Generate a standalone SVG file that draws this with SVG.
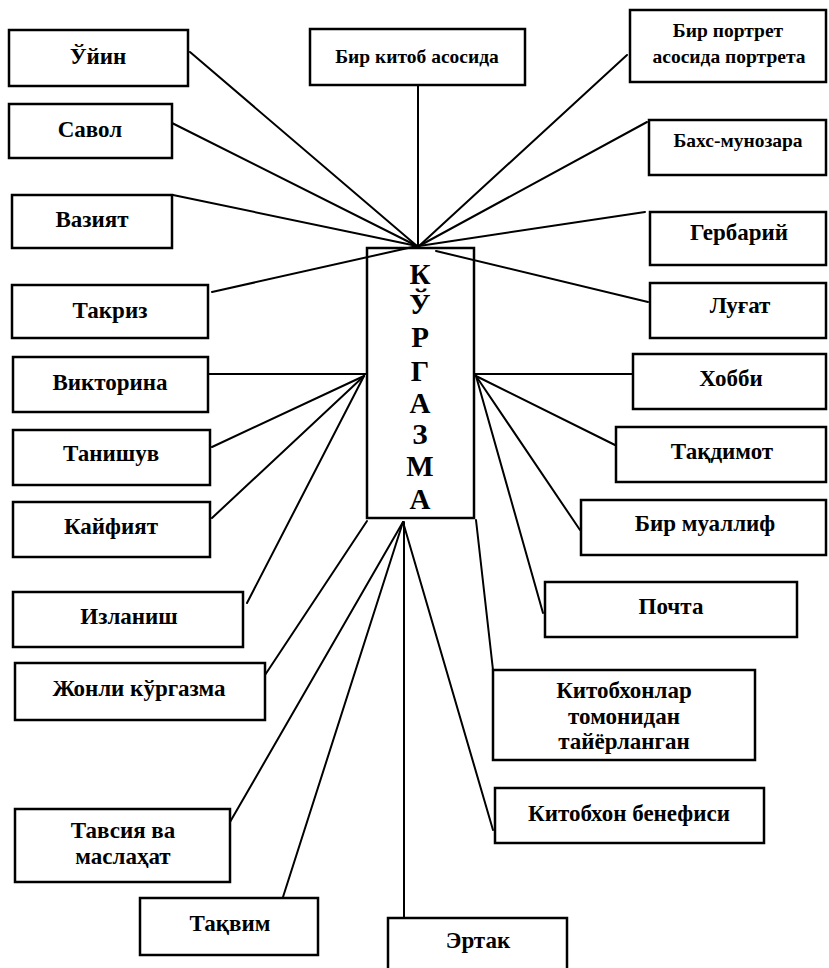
<svg xmlns="http://www.w3.org/2000/svg" width="829" height="968" viewBox="0 0 829 968">
<style>
.b{fill:#fff;stroke:#000;stroke-width:2.5}
.t{font-family:"Liberation Serif","Times New Roman",serif;font-weight:bold;font-size:23px;fill:#000;text-anchor:middle}
.s{font-size:19.5px}
.c{font-size:29px}
.l{stroke:#000;stroke-width:2;fill:none;stroke-linecap:round}
</style>
<rect width="829" height="968" fill="#fff"/>
<g id="connectors">
<line class="l" x1="190" y1="52" x2="417" y2="246"/>
<line class="l" x1="172" y1="123" x2="417" y2="246"/>
<line class="l" x1="173" y1="195" x2="417" y2="246"/>
<line class="l" x1="212" y1="292" x2="417" y2="246"/>
<line class="l" x1="418" y1="85" x2="418" y2="246"/>
<line class="l" x1="627" y1="55" x2="419" y2="246"/>
<line class="l" x1="647" y1="122" x2="419" y2="246"/>
<line class="l" x1="645" y1="212" x2="419" y2="246"/>
<line class="l" x1="436" y1="251" x2="648" y2="302"/>
<line class="l" x1="208" y1="374" x2="367" y2="374"/>
<line class="l" x1="212" y1="447" x2="364" y2="376"/>
<line class="l" x1="212" y1="518" x2="364" y2="376"/>
<line class="l" x1="247" y1="603" x2="364" y2="376"/>
<line class="l" x1="265" y1="675" x2="367" y2="521"/>
<line class="l" x1="230" y1="822" x2="403" y2="522"/>
<line class="l" x1="283" y1="897" x2="403" y2="522"/>
<line class="l" x1="404" y1="522" x2="404" y2="918"/>
<line class="l" x1="493" y1="830" x2="403" y2="522"/>
<line class="l" x1="493" y1="670" x2="476" y2="520"/>
<line class="l" x1="543" y1="613" x2="476" y2="376"/>
<line class="l" x1="580" y1="530" x2="476" y2="376"/>
<line class="l" x1="615" y1="445" x2="476" y2="376"/>
<line class="l" x1="474" y1="374" x2="633" y2="374"/>
</g>
<g id="center"><rect x="367" y="248" width="107" height="270" fill="none" stroke="#000" stroke-width="2.5"/>
<text class="t c" x="420" y="284">К</text><text class="t c" x="420" y="314">Ў</text><text class="t c" x="420" y="347">Р</text><text class="t c" x="420" y="381">Г</text><text class="t c" x="420" y="413">А</text><text class="t c" x="420" y="444">З</text><text class="t c" x="420" y="476">М</text><text class="t c" x="420" y="509">А</text></g>
<g id="uyin"><rect class="b" x="9" y="30" width="179" height="56"/><text class="t" x="98" y="64">Ўйин</text></g>
<g id="savol"><rect class="b" x="9" y="104" width="163" height="54"/><text class="t" x="90" y="137">Савол</text></g>
<g id="vaziyat"><rect class="b" x="12" y="195" width="160" height="53"/><text class="t" x="92" y="227">Вазият</text></g>
<g id="takriz"><rect class="b" x="12" y="285" width="196" height="53"/><text class="t" x="110" y="318">Такриз</text></g>
<g id="kitob"><rect class="b" x="310" y="29" width="215" height="56"/><text class="t s" x="417" y="63">Бир китоб асосида</text></g>
<g id="portret"><rect class="b" x="630" y="10" width="196" height="72"/><text class="t s" x="728" y="37">Бир портрет</text><text class="t s" x="729" y="63">асосида портрета</text></g>
<g id="baxs"><rect class="b" x="649" y="120" width="177" height="55"/><text class="t s" x="738" y="147">Бахс-мунозара</text></g>
<g id="gerbariy"><rect class="b" x="650" y="212" width="176" height="53"/><text class="t" x="739" y="240">Гербарий</text></g>
<g id="lugat"><rect class="b" x="650" y="283" width="176" height="55"/><text class="t" x="740" y="313">Луғат</text></g>
<g id="xobbi"><rect class="b" x="633" y="354" width="193" height="55"/><text class="t" x="731" y="386">Хобби</text></g>
<g id="taqdimot"><rect class="b" x="616" y="427" width="210" height="55"/><text class="t" x="722" y="459">Тақдимот</text></g>
<g id="muallif"><rect class="b" x="581" y="500" width="245" height="55"/><text class="t" x="705" y="531">Бир муаллиф</text></g>
<g id="pochta"><rect class="b" x="545" y="582" width="252" height="55"/><text class="t" x="671" y="614">Почта</text></g>
<g id="viktorina"><rect class="b" x="13" y="357" width="195" height="55"/><text class="t" x="110" y="390">Викторина</text></g>
<g id="tanishuv"><rect class="b" x="13" y="430" width="197" height="55"/><text class="t" x="111" y="461">Танишув</text></g>
<g id="kayfiyat"><rect class="b" x="13" y="502" width="197" height="55"/><text class="t" x="111" y="534">Кайфият</text></g>
<g id="izlanish"><rect class="b" x="13" y="592" width="230" height="55"/><text class="t" x="129" y="624">Изланиш</text></g>
<g id="jonli"><rect class="b" x="15" y="663" width="250" height="57"/><text class="t" x="139" y="696">Жонли кўргазма</text></g>
<g id="tavsiya"><rect class="b" x="15" y="809" width="215" height="73"/><text class="t" x="123" y="838">Тавсия ва</text><text class="t" x="123" y="864">маслаҳат</text></g>
<g id="taqvim"><rect class="b" x="140" y="898" width="178" height="57"/><text class="t" x="230" y="931">Тақвим</text></g>
<g id="ertak"><rect class="b" x="388" y="918" width="179" height="60"/><text class="t" x="478" y="948">Эртак</text></g>
<g id="kitobxonlar"><rect class="b" x="493" y="670" width="262" height="90"/><text class="t" x="624" y="698">Китобхонлар</text><text class="t" x="624" y="724">томонидан</text><text class="t" x="624" y="749">тайёрланган</text></g>
<g id="benefis"><rect class="b" x="495" y="788" width="269" height="55"/><text class="t" x="629" y="821">Китобхон бенефиси</text></g>
</svg>
